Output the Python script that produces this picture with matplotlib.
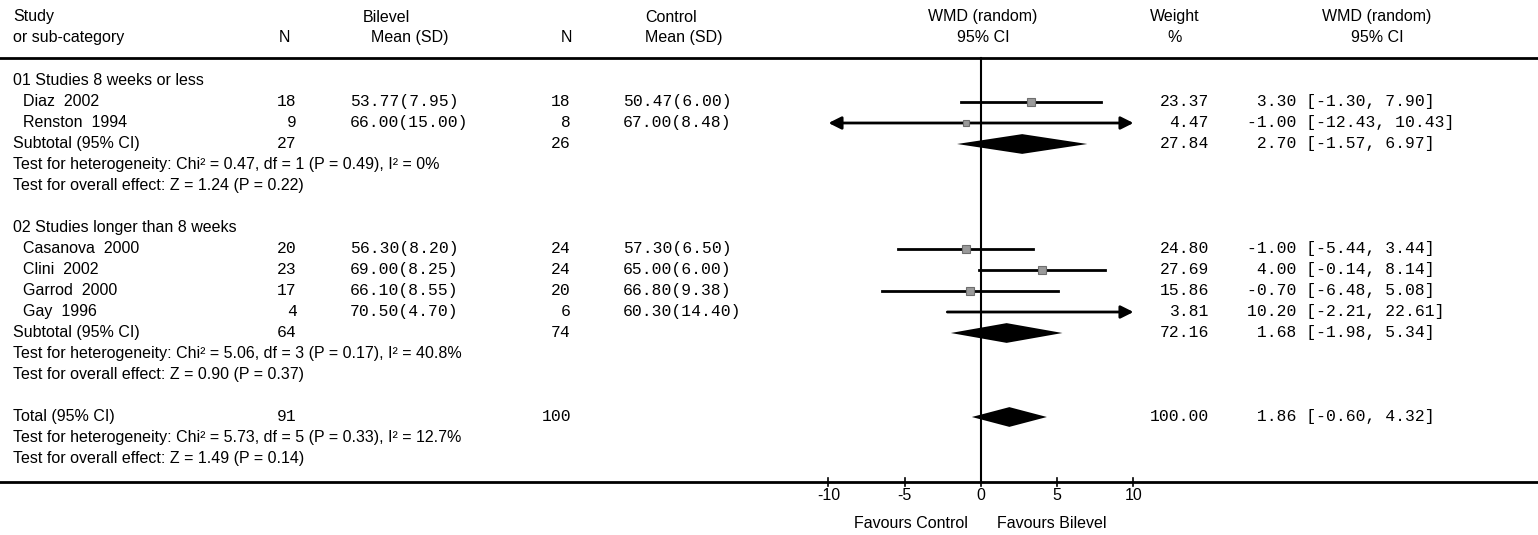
import matplotlib.pyplot as plt
from matplotlib.transforms import blended_transform_factory

# ---- data ----
group_titles = ["01 Studies 8 weeks or less", "02 Studies longer than 8 weeks"]
group_members = [[0, 1], [2, 3, 4, 5]]

study = ["Diaz  2002", "Renston  1994", "Casanova  2000", "Clini  2002", "Garrod  2000", "Gay  1996"]
n_bilevel = [18, 9, 20, 23, 17, 4]
mean_bilevel = [53.77, 66.00, 56.30, 69.00, 66.10, 70.50]
sd_bilevel = [7.95, 15.00, 8.20, 8.25, 8.55, 4.70]
n_control = [18, 8, 24, 24, 20, 6]
mean_control = [50.47, 67.00, 57.30, 65.00, 66.80, 60.30]
sd_control = [6.00, 8.48, 6.50, 6.00, 9.38, 14.40]
weight = [23.37, 4.47, 24.80, 27.69, 15.86, 3.81]
wmd = [3.30, -1.00, -1.00, 4.00, -0.70, 10.20]
ci_lo = [-1.30, -12.43, -5.44, -0.14, -6.48, -2.21]
ci_hi = [7.90, 10.43, 3.44, 8.14, 5.08, 22.61]

# two subtotals then the overall total
sub_label = ["Subtotal (95% CI)", "Subtotal (95% CI)", "Total (95% CI)"]
sub_n_bilevel = [27, 64, 91]
sub_n_control = [26, 74, 100]
sub_weight = [27.84, 72.16, 100.00]
sub_wmd = [2.70, 1.68, 1.86]
sub_lo = [-1.57, -1.98, -0.60]
sub_hi = [6.97, 5.34, 4.32]
het_text = ["Test for heterogeneity: Chi² = 0.47, df = 1 (P = 0.49), I² = 0%",
            "Test for heterogeneity: Chi² = 5.06, df = 3 (P = 0.17), I² = 40.8%",
            "Test for heterogeneity: Chi² = 5.73, df = 5 (P = 0.33), I² = 12.7%"]
effect_text = ["Test for overall effect: Z = 1.24 (P = 0.22)",
               "Test for overall effect: Z = 0.90 (P = 0.37)",
               "Test for overall effect: Z = 1.49 (P = 0.14)"]

ticks = [-10, -5, 0, 5, 10]
xmax = 10

# ---- layout (pixels of the 1538x535 picture) ----
W, H = 1538, 535
X0 = 981          # pixel of effect 0
PX_UNIT = 15.25   # pixels per effect unit
ROW0, ROW_H = 81, 21

SANS = ["Liberation Sans", "DejaVu Sans"]
MONO = ["Liberation Mono", "DejaVu Sans Mono"]
FS_SANS = 11.5
FS_MONO = 11.8

# column x positions
X_LEFT, X_INDENT = 13, 23
X_NB, X_MB = 297, 350        # bilevel N (right edge), mean (left edge)
X_NC, X_MC = 571, 623        # control N, mean
X_W, X_CI = 1209, 1247       # weight (right edge), CI text (left edge)


def row(py):
    return (py - ROW0) / ROW_H


def unit(px):
    return (px - X0) / PX_UNIT


fig = plt.figure(figsize=(W / 100, H / 100), dpi=100)
ax = fig.add_axes([0, 0, 1, 1])
ax.set_xlim(unit(0), unit(W))
ax.set_ylim(row(H), row(0))
ax.axis("off")
tr = blended_transform_factory(ax.transAxes, ax.transData)


def txt(px, r, s, ha="left", mono=False):
    ax.text(px / W, r, s, transform=tr, ha=ha, va="center",
            family=MONO if mono else SANS, fontsize=FS_MONO if mono else FS_SANS)


def ci_text(r, w, est, lo, hi):
    txt(X_W, r, f"{w:.2f}", ha="right", mono=True)
    txt(X_CI, r, f"{est:5.2f} [{lo:.2f}, {hi:.2f}]", mono=True)


def diamond(r, est, lo, hi, h=0.47):
    ax.fill([lo, est, hi, est], [r, r - h, r, r + h], color="black", lw=0)


# header
for px, top, bottom, ha in [(X_LEFT, "Study", "or sub-category", "left"),
                            (386, "Bilevel", "", "center"),
                            (284, "", "N", "center"),
                            (410, "", "Mean (SD)", "center"),
                            (671, "Control", "", "center"),
                            (566, "", "N", "center"),
                            (684, "", "Mean (SD)", "center"),
                            (983, "WMD (random)", "95% CI", "center"),
                            (1175, "Weight", "%", "center"),
                            (1377, "WMD (random)", "95% CI", "center")]:
    if top:
        txt(px, row(17), top, ha=ha)
    if bottom:
        txt(px, row(38), bottom, ha=ha)

ax.axhline(row(58), color="black", lw=2)
ax.axhline(row(482), color="black", lw=2)
ax.plot([0, 0], [row(58), row(482)], color="black", lw=1.5)

r = 0
for g, title in enumerate(group_titles):
    txt(X_LEFT, r, title)
    r += 1
    for i in group_members[g]:
        txt(X_INDENT, r, study[i])
        txt(X_NB, r, str(n_bilevel[i]), ha="right", mono=True)
        txt(X_MB, r, f"{mean_bilevel[i]:.2f}({sd_bilevel[i]:.2f})", mono=True)
        txt(X_NC, r, str(n_control[i]), ha="right", mono=True)
        txt(X_MC, r, f"{mean_control[i]:.2f}({sd_control[i]:.2f})", mono=True)
        ci_text(r, weight[i], wmd[i], ci_lo[i], ci_hi[i])

        lo, hi = max(ci_lo[i], -xmax), min(ci_hi[i], xmax)
        left_out, right_out = ci_lo[i] < -xmax, ci_hi[i] > xmax
        if left_out or right_out:
            style = "<|-|>" if (left_out and right_out) else ("-|>" if right_out else "<|-")
            ax.annotate("", xy=(hi, r), xytext=(lo, r),
                        arrowprops=dict(arrowstyle=style, color="black", lw=2,
                                        mutation_scale=19, shrinkA=0, shrinkB=0))
        else:
            ax.plot([lo, hi], [r, r], color="black", lw=2)
        # box only when the estimate falls inside the plotted range
        if abs(wmd[i]) <= xmax:
            ax.plot(wmd[i], r, "s", ms=4.5 + 0.07 * weight[i],
                    mfc="#9a9a9a", mec="#6e6e6e", mew=0.8, zorder=3)
        r += 1
    txt(X_LEFT, r, sub_label[g])
    txt(X_NB, r, str(sub_n_bilevel[g]), ha="right", mono=True)
    txt(X_NC, r, str(sub_n_control[g]), ha="right", mono=True)
    ci_text(r, sub_weight[g], sub_wmd[g], sub_lo[g], sub_hi[g])
    diamond(r, sub_wmd[g], sub_lo[g], sub_hi[g])
    txt(X_LEFT, r + 1, het_text[g])
    txt(X_LEFT, r + 2, effect_text[g])
    r += 4

# overall total
txt(X_LEFT, r, sub_label[2])
txt(X_NB, r, str(sub_n_bilevel[2]), ha="right", mono=True)
txt(X_NC, r, str(sub_n_control[2]), ha="right", mono=True)
ci_text(r, sub_weight[2], sub_wmd[2], sub_lo[2], sub_hi[2])
diamond(r, sub_wmd[2], sub_lo[2], sub_hi[2])
txt(X_LEFT, r + 1, het_text[2])
txt(X_LEFT, r + 2, effect_text[2])

# x axis ticks on the bottom rule
for t in ticks:
    ax.plot([t, t], [row(478), row(486)], color="black", lw=1.2)
    ax.text(t, row(496), str(t), ha="center", va="center", family=SANS, fontsize=FS_SANS)
ax.text(unit(968), row(523), "Favours Control", ha="right", va="center", family=SANS, fontsize=FS_SANS)
ax.text(unit(997), row(523), "Favours Bilevel", ha="left", va="center", family=SANS, fontsize=FS_SANS)

fig.savefig("out.png", dpi=100)
